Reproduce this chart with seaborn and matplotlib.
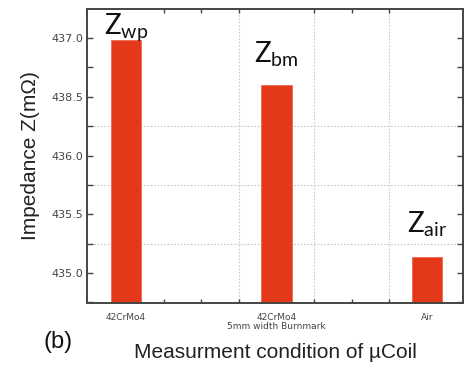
import matplotlib
matplotlib.use("Agg")
import matplotlib.pyplot as plt
from matplotlib.ticker import FixedLocator, FixedFormatter, MultipleLocator
import seaborn as sns
import pandas as pd

# Measured impedance for each coil condition
conditions = ["42CrMo4", "42CrMo4\n5mm width Burnmark", "Air"]
impedance = [436.98, 436.60, 435.14]
bar_labels = ["wp", "bm", "air"]

# y-axis tick values and their printed labels
ytick_values = [435.0, 435.5, 436.0, 436.5, 437.0]
ytick_labels = ["435.0", "435.5", "436.0", "438.5", "437.0"]

df = pd.DataFrame({"condition": conditions, "impedance": impedance})

sns.set_theme(style="white")
plt.rcParams["font.family"] = ["Liberation Sans", "DejaVu Sans"]

fig = plt.figure(figsize=(4.73, 3.70), dpi=100)
ax = fig.add_axes([87 / 473, 1 - 303 / 370, (463 - 87) / 473, (303 - 9) / 370])

bar_color = "#E4381B"
sns.barplot(data=df, x="condition", y="impedance", color=bar_color,
            width=0.2, saturation=1, edgecolor="#F0684A", linewidth=0.6, ax=ax)

ax.set_xlim(-0.26, 2.24)
ax.set_ylim(434.745, 437.247)

# grid lines sit on the minor positions
for gy in [435.25, 435.75, 436.25]:
    ax.axhline(gy, color="#c8c8c8", lw=0.8, ls=(0, (1.5, 1.5)), zorder=0)
for gx in [0.75, 1.25, 1.75]:
    ax.axvline(gx, color="#c8c8c8", lw=0.8, ls=(0, (1.5, 1.5)), zorder=0)

ax.yaxis.set_major_locator(FixedLocator(ytick_values))
ax.yaxis.set_major_formatter(FixedFormatter(ytick_labels))
ax.yaxis.set_minor_locator(MultipleLocator(0.25))
ax.xaxis.set_minor_locator(FixedLocator([0.25 * k for k in range(0, 9)]))

ax.tick_params(axis="both", which="both", direction="in", color="#444444",
               top=True, right=True, bottom=True, left=True)
ax.tick_params(axis="y", which="both", length=4, width=1.0, pad=3,
               labelsize=8, labelcolor="#444444")
ax.tick_params(axis="x", which="both", length=3, width=1.0, pad=7,
               labelsize=6.5, labelcolor="#444444")
ax.tick_params(axis="x", which="major", length=0)
for lab in ax.get_yticklabels():
    lab.set_fontfamily("DejaVu Sans")
for lab in ax.get_xticklabels():
    lab.set_fontfamily("DejaVu Sans")
    lab.set_linespacing(1.1)

for s in ax.spines.values():
    s.set_color("#444444")
    s.set_linewidth(1.4)

ax.set_xlabel("Measurment condition of µCoil", fontsize=15, color="#222222", labelpad=8)
ax.set_ylabel("Impedance Z(mΩ)", fontsize=15, color="#222222", labelpad=8)

# Z labels above each bar
offsets = [5, 16.5, 17]
for i, (v, sub, off) in enumerate(zip(impedance, bar_labels, offsets)):
    ax.annotate(r"$\mathregular{Z_{%s}}$" % sub, xy=(i, v), xytext=(0, off),
                textcoords="offset points", ha="center", va="baseline",
                fontsize=20, fontfamily="Lato", color="#111111")

fig.text(43 / 473, 1 - 342 / 370, "(b)", fontsize=17, color="#111111",
         ha="left", va="center")

fig.savefig("out.png", dpi=100)
